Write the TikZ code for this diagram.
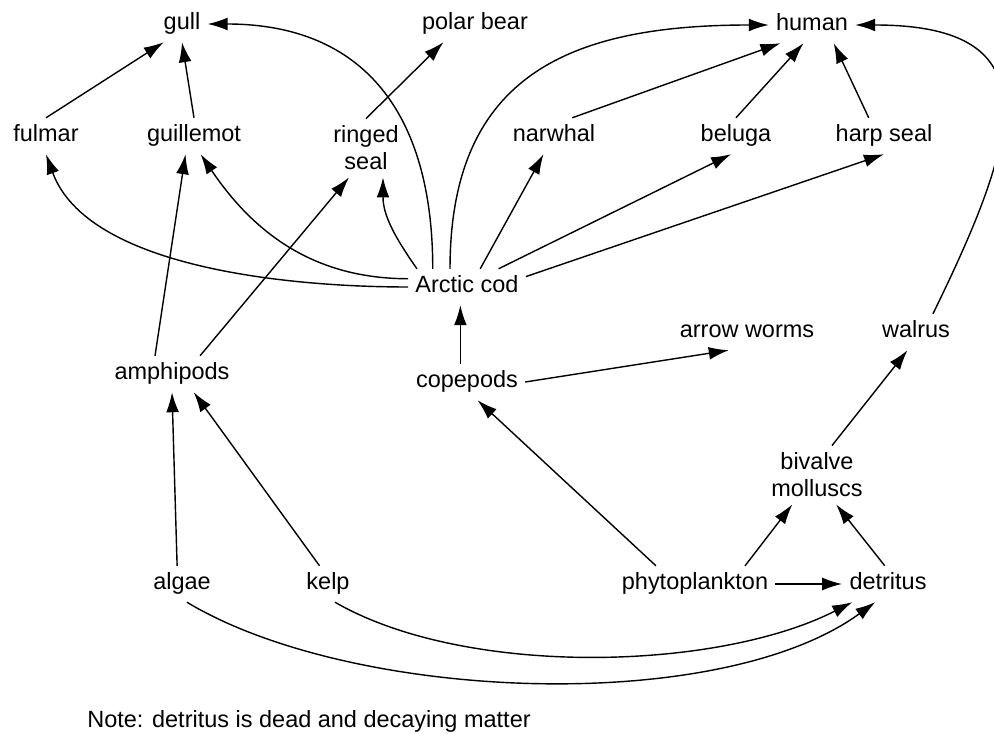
\documentclass[tikz,border=0pt]{standalone}
\usepackage{fontspec}
\setmainfont{Liberation Sans}
\usetikzlibrary{arrows.meta}

\begin{document}
\begin{tikzpicture}[x=0.025cm, y=0.025cm,
			animal/.style={font=\fontsize{16.7}{19.2}\selectfont, inner sep=5pt, text height=12pt, text depth=3.5pt},
			twoline/.style={font=\fontsize{16.7}{19.2}\selectfont, inner sep=5pt, align=center},
			feeds/.style={line width=1pt, black, -{Latex[length=5mm, width=3.2mm]}}
			]
			\useasboundingbox (0,0) rectangle (994,-734);
			
			\node [animal](gull) at (182,-24) {gull};
			\node [animal](polar) at (475,-24) {polar bear};
			\node [animal](human) at (812,-25) {human};
			
			\node [animal](fulmar) at (46,-136) {fulmar};
			\node [animal](guillemot) at (194,-136) {guillemot};
			\node [twoline](ringed) at (366,-148) {ringed\\seal};
			\node [animal](narwhal) at (554,-136) {narwhal};
			\node [animal](beluga) at (736,-136) {beluga};
			\node [animal](harp) at (884,-136) {harp seal};
			
			\node [animal](cod) at (467,-287) {Arctic cod};
			\node [animal](worms) at (747,-332) {arrow worms};
			\node [animal](walrus) at (916,-332) {walrus};
			\node [animal](amphipods) at (172,-374) {amphipods};
			\node [animal](copepods) at (467,-382) {copepods};
			\node [twoline](bivalve) at (817,-475) {bivalve\\molluscs};
			
			\node [animal](algae) at (182,-584) {algae};
			\node [animal](kelp) at (328,-584) {kelp};
			\node [animal](phyto) at (695,-584) {phytoplankton};
			\node [animal](detritus) at (888,-584) {detritus};
			
			\node [animal, anchor=base west](note) at (80,-727) {Note: detritus is dead and decaying matter};
			
			
			\draw[feeds] (fulmar.north) -- (gull.-135);
			\draw[feeds] (guillemot.north) -- (gull.south);
			\draw[feeds] (cod.152) to[out=90, in=0, looseness=1.2] (gull.east);
			\draw[feeds] (ringed.north) -- (polar.-150);
			
			\draw[feeds] (cod.west) to[out=180, in=-70, looseness=0.8] (fulmar.south);
			\draw[feeds] (cod.172) to[out=180, in=-56] (guillemot.-70);
			\draw[feeds] (cod.160) to[out=125, in=-90] (ringed.-60);
			\draw[feeds] (cod.133) to[out=90, in=180, looseness=1.25] (human.west);
			
			\draw[feeds] (cod.54) -- (narwhal.-120);
			\draw[feeds] (cod.30) -- (beluga.-105);
			\draw[feeds] (cod.10) -- (harp.south);
			
			\draw[feeds] (narwhal.45) -- (human.-150);
			\draw[feeds] (beluga.north) -- (human.-115);
			\draw[feeds] (harp.130) -- (human.-40);
			\draw[feeds] (walrus.47) to[out=64, in=0, looseness=1.7] (human.east);
			
			\draw[feeds] (copepods.110) -- (cod.-110);
			\draw[feeds] (copepods.east) -- (worms.-135);
			\draw[feeds] (phyto.155) -- (copepods.-60);
			
			\draw[feeds] (algae.105) -- (amphipods.south);
			\draw[feeds] (kelp.115) -- (amphipods.-40);
			\draw[feeds] (amphipods.133) -- (guillemot.-115);
			\draw[feeds] (amphipods.33) -- (ringed.-120);
			
			\draw[feeds] (phyto.20) -- (bivalve.-130);
			\draw[feeds] (detritus.100) -- (bivalve.-57);
			\draw[feeds] (bivalve.63) -- (walrus.-115);
			\draw[feeds] (phyto.east) -- (detritus.west);
			
			\draw[feeds] (kelp.-69) to[out=-30, in=-153, looseness=0.75] (detritus.-153);
			\draw[feeds] (algae.-75) to[out=-31, in=-144, looseness=0.72] (detritus.-125);
			
		\end{tikzpicture}
\end{document}
